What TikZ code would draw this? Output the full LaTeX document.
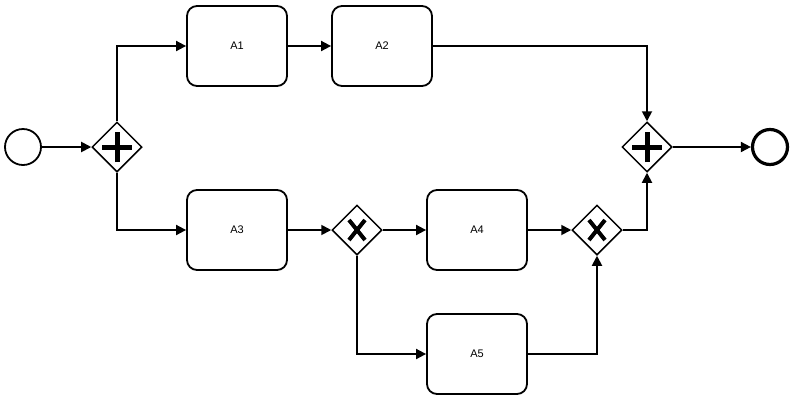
\documentclass[tikz,border=0pt]{standalone}
\usepackage{fontspec}
\setmainfont{Liberation Sans}
\usetikzlibrary{arrows.meta,shapes.geometric}
\begin{document}
\begin{tikzpicture}[x=1pt,y=-1pt,
  task/.style={draw,line width=1.8pt,rounded corners=10pt,minimum width=100pt,minimum height=80pt,inner sep=0pt,font=\fontsize{11}{13}\selectfont},
  gw/.style={draw,diamond,line width=1.5pt,minimum width=50pt,minimum height=50pt,inner sep=0pt,aspect=1},
  startev/.style={draw,circle,line width=1.8pt,minimum size=36pt,inner sep=0pt},
  endev/.style={draw,circle,line width=3.2pt,minimum size=35pt,inner sep=0pt},
  flow/.style={line width=1.8pt,-{Triangle[length=10pt,width=10pt]}},
  sym/.style={line width=5pt},
  xsym/.style={line width=4pt}
]
\useasboundingbox (0,0) rectangle (793,400);
\node[startev] (s) at (23,147) {};
\node[gw] (g1) at (117,147) {};
\node[task] (a1) at (237,46) {A1};
\node[task] (a2) at (382,46) {A2};
\node[task] (a3) at (237,230) {A3};
\node[gw] (x1) at (357,230) {};
\node[task] (a4) at (477,230) {A4};
\node[task] (a5) at (477,354) {A5};
\node[gw] (x2) at (597,230) {};
\node[gw] (g2) at (647,147) {};
\node[endev] (e) at (770,147) {};
% symbols
\draw[sym] ([xshift=-15pt]g1.center) -- ([xshift=15pt]g1.center) ([yshift=-15pt]g1.center) -- ([yshift=15pt]g1.center);
\draw[sym] ([xshift=-15pt]g2.center) -- ([xshift=15pt]g2.center) ([yshift=-15pt]g2.center) -- ([yshift=15pt]g2.center);
\draw[xsym] ([shift={(-8pt,-10pt)}]x1.center) -- ([shift={(8pt,10pt)}]x1.center) ([shift={(8pt,-10pt)}]x1.center) -- ([shift={(-8pt,10pt)}]x1.center);
\draw[xsym] ([shift={(-8pt,-10pt)}]x2.center) -- ([shift={(8pt,10pt)}]x2.center) ([shift={(8pt,-10pt)}]x2.center) -- ([shift={(-8pt,10pt)}]x2.center);
% flows
\draw[flow] (s) -- (g1);
\draw[flow] (g1.north) |- (a1);
\draw[flow] (a1) -- (a2);
\draw[flow] (a2) -| (g2.north);
\draw[flow] (g1.south) |- (a3);
\draw[flow] (a3) -- (x1);
\draw[flow] (x1) -- (a4);
\draw[flow] (x1.south) |- (a5);
\draw[flow] (a4) -- (x2);
\draw[flow] (a5) -| (x2.south);
\draw[flow] (x2.east) -| (g2.south);
\draw[flow] (g2) -- (e);
\end{tikzpicture}
\end{document}
